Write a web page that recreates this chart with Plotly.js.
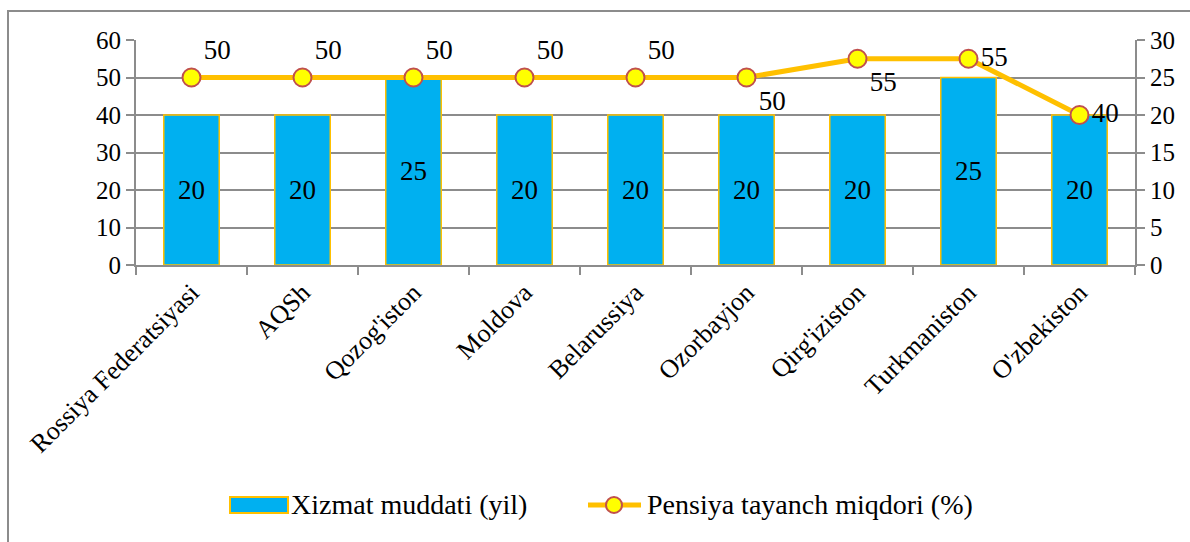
<!DOCTYPE html>
<html>
<head>
<meta charset="utf-8">
<script src="https://cdn.plot.ly/plotly-3.0.1.min.js"></script>
<style>
html,body{margin:0;padding:0;background:#fff;}
#wrap{position:relative;width:1190px;height:542px;overflow:hidden;}
#chart{position:absolute;left:0;top:0;width:1190px;height:542px;}
#frame{position:absolute;left:7px;top:10px;width:1200px;height:600px;border-top:2px solid #8c8c8c;border-left:2px solid #8c8c8c;pointer-events:none;}
</style>
</head>
<body>
<div id="wrap"><div id="chart"></div><div id="frame"></div></div>
<script>
const categories = ["Rossiya Federatsiyasi","AQSh","Qozog'iston","Moldova","Belarussiya","Ozorbayjon","Qirg'iziston","Turkmaniston","O'zbekiston"];
const serviceYears = [20,20,25,20,20,20,20,25,20];
const pensionPct = [50,50,50,50,50,50,55,55,40];
const pensionLabelPos = ["top right","top right","top right","top right","top right","bottom right","bottom right","middle right","middle right"];
const leftTicks = [0,10,20,30,40,50,60];
const rightTicks = [0,5,10,15,20,25,30];
const seriesNames = ["Xizmat muddati (yil)", "Pensiya tayanch miqdori (%)"];

const FAM = "Liberation Serif";
const tickFont = {family: FAM, size: 25, color: "#000"};
const labelFont = {family: FAM, size: 27, color: "#000"};
const gridColor = "#8c8c8c";
const barColor = "#00B0F0", lineColor = "#FFC000", mkFill = "#FFFF00", mkLine = "#C0504D";

const bars = {
  type: "bar",
  name: seriesNames[0],
  x: categories,
  y: serviceYears,
  yaxis: "y",
  marker: {color: barColor, line: {color: lineColor, width: 1.5}},
  text: serviceYears.map(String),
  textposition: "inside",
  insidetextanchor: "middle",
  textfont: labelFont,
  hoverinfo: "skip",
  showlegend: false
};
const line = {
  type: "scatter",
  mode: "lines+markers+text",
  name: seriesNames[1],
  x: categories,
  y: pensionPct,
  yaxis: "y2",
  line: {color: lineColor, width: 5},
  marker: {size: 18, color: mkFill, line: {color: mkLine, width: 2}},
  text: pensionPct.map(String),
  textposition: pensionLabelPos,
  textfont: labelFont,
  cliponaxis: false,
  hoverinfo: "skip",
  showlegend: false
};

// manual legend (paper coordinates)
const L = 136, T = 40, PW = 999, PH = 225;
const px = v => (v - L) / PW;
const py = v => (T + PH - v) / PH;
const legY = 505;
const shapes = [
  {type: "rect", xref: "paper", yref: "paper", x0: px(230), x1: px(288), y0: py(513), y1: py(497),
   fillcolor: barColor, line: {color: lineColor, width: 2}},
  {type: "line", xref: "paper", yref: "paper", x0: px(588), x1: px(641), y0: py(legY), y1: py(legY),
   line: {color: lineColor, width: 5}},
  {type: "circle", xref: "paper", yref: "paper", x0: px(606), x1: px(622), y0: py(513), y1: py(497),
   fillcolor: mkFill, line: {color: mkLine, width: 2}}
];
const annotations = [
  {xref: "paper", yref: "paper", x: px(289), y: py(legY), xanchor: "left", yanchor: "middle",
   text: seriesNames[0], showarrow: false, font: {family: FAM, size: 28, color: "#000"}},
  {xref: "paper", yref: "paper", x: px(645), y: py(legY), xanchor: "left", yanchor: "middle",
   text: seriesNames[1], showarrow: false, font: {family: FAM, size: 28, color: "#000"}}
];

const layout = {
  width: 1190, height: 542,
  margin: {l: L, r: 55, t: T, b: 542 - T - PH},
  paper_bgcolor: "#fff", plot_bgcolor: "#fff",
  font: tickFont,
  showlegend: false,
  bargap: 0.5,
  shapes: shapes,
  annotations: annotations,
  xaxis: {
    type: "category", tickson: "boundaries", ticks: "outside", ticklen: 8, tickcolor: gridColor, tickwidth: 2,
    showline: true, linecolor: gridColor, linewidth: 2, showgrid: false, tickangle: -45,
    tickfont: {family: FAM, size: 26, color: "#000"}, range: [-0.5, 8.5]
  },
  yaxis: {
    side: "right", range: [0, 30], tickvals: rightTicks, ticktext: rightTicks.map(String),
    ticks: "outside", ticklen: 8, tickcolor: gridColor, tickwidth: 2,
    showline: true, linecolor: gridColor, linewidth: 2,
    showgrid: true, gridcolor: gridColor, gridwidth: 2, zeroline: false, tickfont: tickFont
  },
  yaxis2: {
    side: "left", overlaying: "y", range: [0, 60], tickvals: leftTicks, ticktext: leftTicks.map(String),
    ticks: "outside", ticklen: 8, tickcolor: gridColor, tickwidth: 2,
    showline: true, linecolor: gridColor, linewidth: 2,
    showgrid: false, zeroline: false, tickfont: tickFont
  }
};
Plotly.newPlot("chart", [bars, line], layout, {displayModeBar: false, staticPlot: true});
</script>
</body>
</html>
